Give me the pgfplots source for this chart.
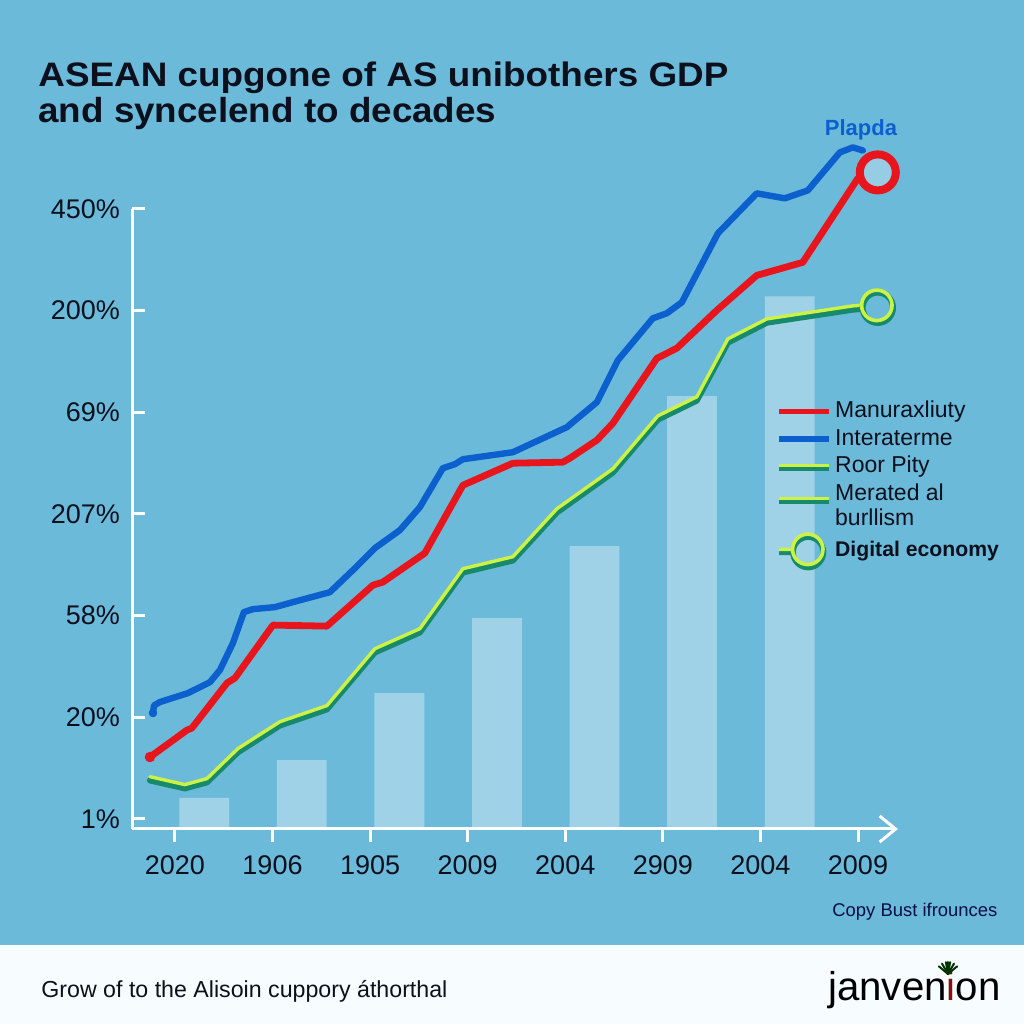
\documentclass[border=0pt]{standalone}
\usepackage{pgfplots}
\usepackage{pgfplotstable}
\pgfplotsset{compat=1.18}
\usepackage{fontspec}
\setmainfont{Liberation Sans}
\usetikzlibrary{arrows.meta}
\definecolor{bgblue}{RGB}{107,186,218}
\definecolor{cred}{RGB}{232,22,28}
\definecolor{cblue}{RGB}{12,96,206}
\definecolor{cyg}{RGB}{205,242,70}
\definecolor{cdg}{RGB}{24,138,108}
\definecolor{ctext}{RGB}{12,16,28}
\definecolor{cinner}{RGB}{150,205,228}

\pgfplotstableread{
x y
0.3 0.305
1.3 0.678
2.3 1.337
3.3 2.075
4.3 2.783
5.3 4.258
6.3 5.241
}\bars

\pgfplotstableread{
x y
-0.225 1.141
-0.215 1.215
-0.154 1.249
0.133 1.337
0.359 1.445
0.461 1.563
0.594 1.829
0.707 2.134
0.799 2.163
1.025 2.183
1.209 2.232
1.588 2.330
1.824 2.547
2.049 2.763
2.305 2.940
2.510 3.166
2.746 3.550
2.869 3.589
2.951 3.638
3.463 3.707
4.016 3.953
4.324 4.199
4.539 4.612
4.898 5.025
5.041 5.074
5.195 5.182
5.564 5.860
5.963 6.254
6.250 6.205
6.486 6.283
6.814 6.657
6.947 6.706
7.049 6.676
}\blueline

\pgfplotstableread{
x y
-0.256 0.708
0.123 0.973
0.174 0.993
0.533 1.436
0.615 1.485
1.004 2.006
1.557 1.996
2.029 2.399
2.131 2.429
2.561 2.714
2.951 3.382
3.463 3.599
3.975 3.609
4.047 3.648
4.324 3.825
4.488 3.992
4.939 4.631
5.143 4.730
5.553 5.103
5.963 5.447
6.434 5.575
6.998 6.401
7.203 6.460
}\redline

\pgfplotstableread{
x y
-0.256 0.501
0.102 0.423
0.328 0.482
0.645 0.777
1.076 1.042
1.557 1.200
2.049 1.760
2.510 1.957
2.951 2.547
3.463 2.665
3.914 3.137
4.488 3.530
4.949 4.051
5.348 4.238
5.666 4.808
6.066 5.005
6.947 5.133
7.040 5.140
}\greenline

\begin{document}
\begin{tikzpicture}[x=1pt,y=1pt]
\fill[bgblue] (0,0) rectangle (512,512);
\fill[white!97!cyan] (0,0) rectangle (512,39.5);
\path[use as bounding box] (0,0) rectangle (512,512);

\node[anchor=base west, inner sep=0, text=ctext] at (19,468.5)
  {\resizebox{345pt}{12.3pt}{\bfseries ASEAN cupgone of AS unibothers GDP}};
\node[anchor=base west, inner sep=0, text=ctext] at (19,450.75)
  {\resizebox{229pt}{12.6pt}{\bfseries and syncelend to decades}};

\begin{axis}[
  at={(66pt,97.5pt)}, anchor=south west,
  scale only axis, width=383pt, height=310pt,
  xmin=-0.44, xmax=7.41, ymin=0, ymax=6.1,
  axis x line*=bottom, axis y line*=left,
  x axis line style={white, line width=1.5pt, -{Straight Barb[length=8pt,width=13pt,line width=1.5pt]}},
  y axis line style={white, line width=1.5pt},
  xtick={0,...,7},
  xticklabels={2020,1906,1905,2009,2004,2909,2004,2009},
  ytick={0.1,1.1,2.1,3.1,4.1,5.1,6.1},
  yticklabels={1\%,20\%,58\%,207\%,69\%,200\%,450\%},
  xtick align=outside, ytick align=inside,
  major tick length=6.5pt,
  tick style={white, line width=1.5pt},
  tick label style={font=\fontsize{13.5}{15}\selectfont, text=ctext},
  yticklabel style={xshift=-2.5pt},
  xticklabel style={yshift=-3.5pt},
  clip=false,
  legend style={
    at={(0.8407,0.6944)}, anchor=north west, draw=none, fill=none,
    font=\fontsize{11.5}{12.5}\selectfont, text=ctext,
    inner sep=0pt, row sep=1pt, column sep=0.6pt,
    nodes={inner sep=1pt},
    cells={anchor=west, align=left},
  },
]
\addplot[ybar, bar width=0.51, fill=white, fill opacity=0.36, draw=none, forget plot] table {\bars};

\addplot[cdg, line width=3pt, yshift=-1.2pt, line join=round, line cap=round, forget plot] table {\greenline};
\addplot[cyg, line width=1.7pt, yshift=0.7pt, line join=round, line cap=round, forget plot] table {\greenline};

\addplot[cblue, line width=3.2pt, line join=round, line cap=round, forget plot] table {\blueline};
\addplot[cred, line width=3.4pt, line join=round, line cap=round, forget plot] table {\redline};
\addplot[only marks, mark=*, mark size=2.4pt, cred, forget plot] coordinates {(-0.256,0.708)};
\addplot[only marks, mark=*, mark size=1.9pt, cblue, forget plot] coordinates {(-0.225,1.141)};

\addplot[only marks, mark=*, mark size=9pt, mark options={draw=cred, fill=cinner, line width=4pt}, forget plot] coordinates {(7.203,6.460)};

\addplot[only marks, mark=o, mark size=7.6pt, mark options={draw=cdg, line width=3pt}, forget plot] coordinates {(7.203,5.128)};
\addplot[only marks, mark=o, mark size=7.6pt, mark options={draw=cyg, line width=1.8pt}, forget plot] coordinates {(7.193,5.152)};

\addlegendimage{legend image code/.code={\draw[cred,line width=2.8pt] (0pt,0pt)--(25pt,0pt);}}
\addlegendentry[text height=8.3pt, text depth=2.5pt]{Manuraxliuty}
\addlegendimage{legend image code/.code={\draw[cblue,line width=2.8pt] (0pt,0pt)--(25pt,0pt);}}
\addlegendentry[text height=8.3pt, text depth=2.5pt]{Interaterme}
\addlegendimage{legend image code/.code={\draw[cdg,line width=2.4pt] (0pt,-1pt)--(25pt,-1pt); \draw[cyg,line width=1.5pt] (0pt,0.6pt)--(25pt,0.6pt);}}
\addlegendentry[text height=8.3pt, text depth=2.5pt]{Roor Pity}
\addlegendimage{legend image code/.code={\draw[cdg,line width=2.4pt] (0pt,2pt)--(25pt,2pt); \draw[cyg,line width=1.5pt] (0pt,3.6pt)--(25pt,3.6pt);}}
\addlegendentry{Merated al\\burllism}
\addlegendimage{legend image code/.code={
  \draw[cdg,line width=2.8pt] (0pt,-1.2pt)--(7pt,-1.2pt) (14.5pt,-1.2pt) circle[radius=7.6pt];
  \draw[cyg,line width=1.8pt] (0pt,0.3pt)--(7pt,0.3pt) (14.3pt,0.3pt) circle[radius=7.6pt];}}
\addlegendentry[font=\fontsize{10.6}{12.5}\selectfont\bfseries]{Digital economy}
\end{axis}

\node[text=cblue, font=\bfseries\fontsize{11}{13}\selectfont] at (430.5,447) {Plapda};

\node[anchor=base west, inner sep=0, text=ctext!80!blue] at (416,53.5)
  {\resizebox{82.5pt}{!}{\fontsize{10}{12}\selectfont Copy Bust ifrounces}};

\node[anchor=base west, inner sep=0, text=ctext] at (20.5,13.5)
  {\resizebox{203pt}{!}{\fontsize{11.2}{13}\selectfont Grow of to the Alisoin cuppory áthorthal}};

\node[anchor=base west, inner sep=0, text=black] at (414,12)
  {\resizebox{86pt}{!}{\fontsize{18}{20}\selectfont janven\textcolor{cred!60!black}{i}on}};
\begin{scope}[shift={(474,25)}]
  \foreach \a in {40,60,80,90,100,120,140}
    \draw[black!80!green, line width=1pt, line cap=round] (0,0) -- (\a:6);
\end{scope}
\end{tikzpicture}
\end{document}
